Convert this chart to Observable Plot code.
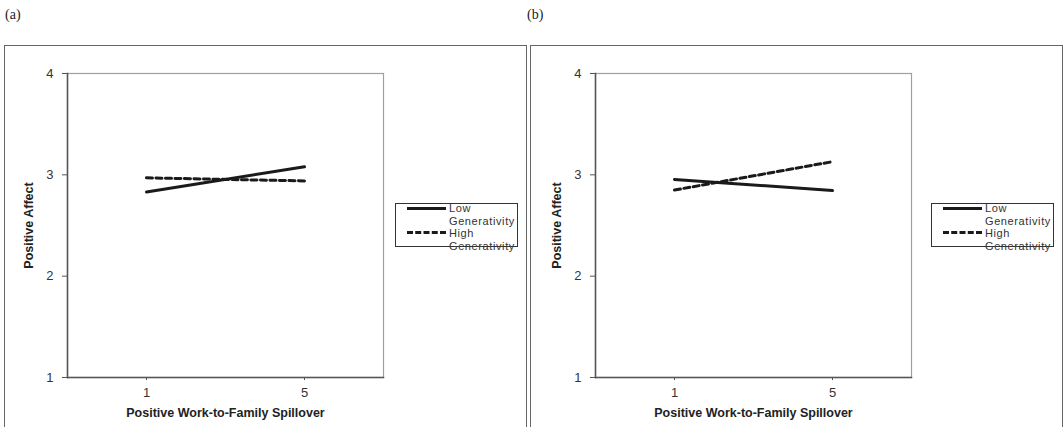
<!DOCTYPE html>
<html>
<head>
<meta charset="utf-8">
<script src="https://cdn.jsdelivr.net/npm/d3@7"></script>
<script src="https://cdn.jsdelivr.net/npm/@observablehq/plot@0.6"></script>
<style>
  html, body { margin: 0; padding: 0; background: #fff; }
  #root { position: relative; width: 1064px; height: 427px; overflow: hidden; font-family: "Liberation Sans", Arial, sans-serif; }
  .tag { position: absolute; top: 7px; font-family: "Liberation Serif", "Times New Roman", serif; font-size: 14px; color: #222; }
  .frame { position: absolute; top: 45px; height: 400px; border: 1.5px solid #666; box-sizing: border-box; }
  .plot { position: absolute; top: 45px; }
  .legend { position: absolute; top: 203px; height: 44px; border: 1px solid #333; box-sizing: border-box; background: #fff; overflow: visible; }
  .sw { position: absolute; left: 11px; width: 39px; height: 0; border-top: 3px solid #1a1a1a; }
  .sw.dash { border-top: 3px dashed #1a1a1a; }
  .lt { position: absolute; left: 53px; font-size: 11px; line-height: 12px; letter-spacing: 0.6px; color: #333; white-space: nowrap; }
</style>
</head>
<body>
<div id="root"></div>
<script>
const spillover = ["1", "5"];
const groups = ["Low Generativity", "High Generativity"];
const legendLines = [["Low", "Generativity"], ["High", "Generativity"]];
const lowA = [2.83, 3.08];
const highA = [2.97, 2.94];
const lowB = [2.955, 2.845];
const highB = [2.85, 3.13];
const yTicks = [1, 2, 3, 4];
const panelTags = ["(a)", "(b)"];
const FONT = "'Liberation Sans', Arial, sans-serif";

function makePlot(low, high) {
  const data = spillover.flatMap((s, i) => [
    {x: s, y: low[i], g: groups[0]},
    {x: s, y: high[i], g: groups[1]}
  ]);
  return Plot.plot({
    width: 526,
    height: 382,
    marginLeft: 67,
    marginRight: 143,
    marginTop: 28,
    marginBottom: 50,
    style: {fontFamily: FONT, fontSize: "12px", color: "#333", background: "transparent", overflow: "visible"},
    x: {type: "point", domain: spillover, padding: 0.5},
    y: {domain: [1, 4]},
    marks: [
      Plot.frame({stroke: "#a0a0a0", strokeWidth: 1.2}),
      Plot.frame({anchor: "left", stroke: "#555", strokeWidth: 1.5}),
      Plot.frame({anchor: "bottom", stroke: "#555", strokeWidth: 1.5}),
      Plot.axisY({ticks: yTicks, tickFormat: d3.format("d"), tickSize: 5, tickPadding: 9, label: null, stroke: "#555", fill: "#333", fontSize: 13, fontFamily: FONT}),
      Plot.axisX({tickSize: 3, tickPadding: 7, label: null, stroke: "#555", fill: "#333", fontSize: 13, fontFamily: FONT}),
      Plot.line(data.filter(d => d.g === groups[0]), {x: "x", y: "y", stroke: "#1a1a1a", strokeWidth: 3}),
      Plot.line(data.filter(d => d.g === groups[1]), {x: "x", y: "y", stroke: "#1a1a1a", strokeWidth: 3, strokeDasharray: "6,3.5"}),
      Plot.text(["Positive Affect"], {frameAnchor: "left", textAnchor: "middle", lineAnchor: "middle", rotate: -90, dx: -39, fontWeight: "bold", fontSize: 12.5, fontFamily: FONT, fill: "#222"}),
      Plot.text(["Positive Work-to-Family Spillover"], {frameAnchor: "bottom", textAnchor: "middle", lineAnchor: "middle", dy: 35, fontWeight: "bold", fontSize: 12.5, fontFamily: FONT, fill: "#222"})
    ]
  });
}

const root = document.getElementById("root");
const panels = [
  {tagX: 5, frameX: 4, frameW: 523, plotX: 0, legX: 395, legW: 123, low: lowA, high: highA},
  {tagX: 527, frameX: 530, frameW: 533, plotX: 528, legX: 931, legW: 123, low: lowB, high: highB}
];
// legend line centres relative to the legend box top
const textTops = [[-2, 10.5], [23, 35.5]];
const swTops = [3, 27];
panels.forEach((p, i) => {
  const tag = document.createElement("div");
  tag.className = "tag"; tag.style.left = p.tagX + "px"; tag.textContent = panelTags[i];
  root.appendChild(tag);
  const fr = document.createElement("div");
  fr.className = "frame"; fr.style.left = p.frameX + "px"; fr.style.width = p.frameW + "px";
  root.appendChild(fr);
  const wrap = document.createElement("div");
  wrap.className = "plot"; wrap.style.left = p.plotX + "px";
  wrap.appendChild(makePlot(p.low, p.high));
  root.appendChild(wrap);
  const leg = document.createElement("div");
  leg.className = "legend"; leg.style.left = p.legX + "px"; leg.style.width = p.legW + "px";
  legendLines.forEach((lines, k) => {
    const sw = document.createElement("div");
    sw.className = k === 0 ? "sw" : "sw dash";
    sw.style.top = swTops[k] + "px";
    leg.appendChild(sw);
    lines.forEach((t, j) => {
      const d = document.createElement("div");
      d.className = "lt"; d.style.top = textTops[k][j] + "px"; d.textContent = t;
      leg.appendChild(d);
    });
  });
  root.appendChild(leg);
});
</script>
</body>
</html>
